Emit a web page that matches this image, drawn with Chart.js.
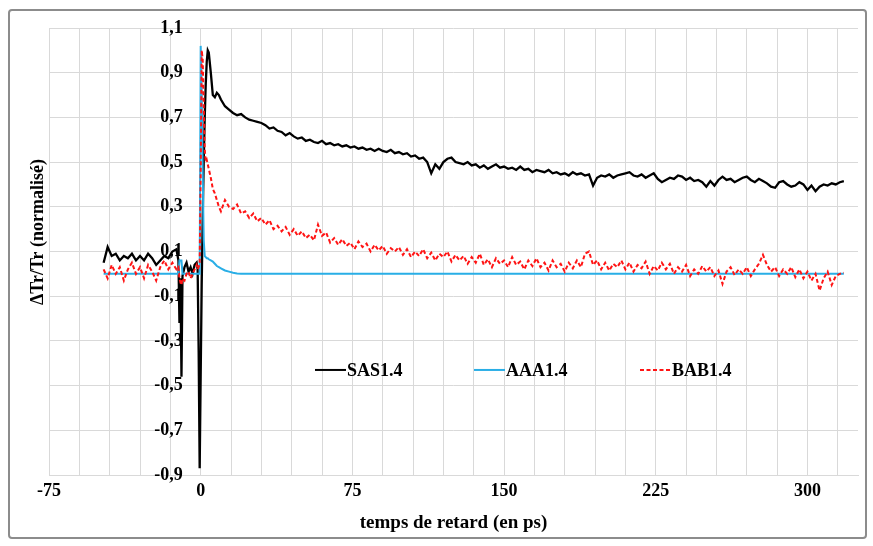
<!DOCTYPE html>
<html>
<head>
<meta charset="utf-8">
<script src="https://cdn.jsdelivr.net/npm/chart.js@4.4.1/dist/chart.umd.min.js"></script>
<style>
  html, body { margin: 0; padding: 0; background: #fff; }
  #wrap { position: relative; width: 873px; height: 546px; }
</style>
</head>
<body>
<div id="wrap"><canvas id="c"></canvas></div>
<script>
const times = [
  -48,-46,-44,-42,-40,-38,-36,-34,-32,-30,-28,-26,-24,-22,-20,-18,-16,-14,-12,
  -11,-10.5,-10,-9.5,-9,-8,-7,-6,-5,-4,-3,-2,-1.5,-1,-0.5,0,0.5,1,1.5,2,2.5,3,3.5,4,5,6,7,8,9,
  10,12,14,16,18,20,22,24,26,28,
  30,32,34,36,38,40,42,44,46,48,
  50,52,54,56,58,60,62,64,66,68,
  70,72,74,76,78,80,82,84,86,88,
  90,92,94,96,98,100,102,104,106,108,
  110,112,114,116,118,120,122,124,126,128,
  130,132,134,136,138,140,142,144,146,148,
  150,152,154,156,158,160,162,164,166,168,
  170,172,174,176,178,180,182,184,186,188,
  190,192,194,196,198,200,202,204,206,208,
  210,212,214,216,218,220,222,224,226,228,
  230,232,234,236,238,240,242,244,246,248,
  250,252,254,256,258,260,262,264,266,268,
  270,272,274,276,278,280,282,284,286,288,
  290,292,294,296,298,300,302,304,306,308,
  310,312,314,316,318
];
const sas = [
  0.05,0.12,0.08,0.09,0.06,0.08,0.07,0.09,0.06,0.08,0.06,0.09,0.07,0.04,0.06,0.08,0.07,0.10,0.11,
  0.06,-0.22,-0.02,-0.46,-0.01,0.03,0.05,0.01,0.03,0.0,0.04,0.05,0.02,-0.35,-0.87,-0.45,-0.05,0.25,0.5,0.7,0.85,0.95,1.0,0.99,0.9,0.8,0.79,0.81,0.8,
  0.78,0.75,0.735,0.72,0.71,0.715,0.70,0.69,0.685,0.68,
  0.675,0.665,0.65,0.655,0.64,0.635,0.62,0.63,0.615,0.605,
  0.61,0.595,0.6,0.59,0.585,0.595,0.58,0.585,0.575,0.58,
  0.57,0.575,0.565,0.57,0.56,0.565,0.555,0.56,0.55,0.56,
  0.55,0.545,0.555,0.54,0.545,0.535,0.54,0.525,0.53,0.515,
  0.52,0.5,0.45,0.49,0.47,0.5,0.515,0.52,0.5,0.495,
  0.49,0.5,0.485,0.49,0.475,0.485,0.47,0.48,0.49,0.475,
  0.48,0.47,0.475,0.465,0.48,0.465,0.47,0.455,0.465,0.46,
  0.455,0.465,0.45,0.455,0.445,0.45,0.44,0.455,0.445,0.45,
  0.44,0.445,0.395,0.43,0.44,0.435,0.445,0.43,0.44,0.445,
  0.45,0.455,0.44,0.435,0.445,0.43,0.44,0.45,0.425,0.41,
  0.42,0.43,0.425,0.44,0.435,0.42,0.43,0.415,0.42,0.41,
  0.39,0.415,0.395,0.42,0.435,0.42,0.425,0.41,0.42,0.43,
  0.435,0.42,0.41,0.425,0.415,0.405,0.39,0.385,0.41,0.415,
  0.4,0.39,0.395,0.41,0.4,0.375,0.395,0.37,0.39,0.4,
  0.395,0.405,0.4,0.41,0.415
];
const aaa = [
  0,0,0,0,0,0,0,0,0,0,0,0,0,0,0,0,0,0,0,
  0,0.06,0.06,0.06,0,0,0,0,0,0,0,0,0,0,0,1.02,0.8,0.45,0.15,0.08,0.075,0.07,0.07,0.065,0.06,0.055,0.045,0.035,0.03,
  0.025,0.015,0.01,0.005,0.002,0,0,0,0,0,
  0,0,0,0,0,0,0,0,0,0,
  0,0,0,0,0,0,0,0,0,0,
  0,0,0,0,0,0,0,0,0,0,
  0,0,0,0,0,0,0,0,0,0,
  0,0,0,0,0,0,0,0,0,0,
  0,0,0,0,0,0,0,0,0,0,
  0,0,0,0,0,0,0,0,0,0,
  0,0,0,0,0,0,0,0,0,0,
  0,0,0,0,0,0,0,0,0,0,
  0,0,0,0,0,0,0,0,0,0,
  0,0,0,0,0,0,0,0,0,0,
  0,0,0,0,0,0,0,0,0,0,
  0,0,0,0,0,0,0,0,0,0,
  0,0,0,0,0,0,0,0,0,0,
  0,0,0,0,0
];
const bab = [
  0.02,-0.02,0.04,0.0,0.03,-0.03,0.02,0.05,0.0,0.03,-0.02,0.04,0.01,-0.03,0.03,0.06,0.02,0.05,0.02,
  0.03,-0.02,-0.04,-0.05,-0.02,-0.03,0.0,0.01,-0.02,0.0,0.02,0.04,0.02,0.03,0.05,0.45,1.0,0.96,0.75,0.56,0.5,0.51,0.49,0.47,0.43,0.38,0.36,0.33,0.3,
  0.28,0.33,0.3,0.29,0.31,0.27,0.28,0.25,0.27,0.235,
  0.25,0.22,0.24,0.2,0.215,0.19,0.21,0.175,0.2,0.17,
  0.19,0.16,0.175,0.15,0.22,0.17,0.185,0.14,0.16,0.13,
  0.155,0.125,0.14,0.11,0.145,0.12,0.135,0.1,0.13,0.105,
  0.125,0.09,0.115,0.1,0.12,0.085,0.11,0.075,0.1,0.08,
  0.11,0.07,0.095,0.06,0.09,0.075,0.1,0.055,0.085,0.06,
  0.08,0.045,0.075,0.05,0.09,0.04,0.065,0.03,0.07,0.045,
  0.06,0.03,0.075,0.04,0.055,0.02,0.06,0.035,0.07,0.03,
  0.05,0.015,0.06,0.03,0.045,0.01,0.05,0.025,0.06,0.03,
  0.09,0.1,0.04,0.06,0.02,0.05,0.015,0.045,0.03,0.06,
  0.02,0.05,0.01,0.04,0.025,0.055,0.0,0.035,0.015,0.05,
  0.02,0.045,0.0,0.03,0.01,0.04,-0.01,0.02,0.0,0.035,
  0.01,0.03,-0.01,0.015,-0.045,0.01,0.03,-0.005,0.02,0.0,
  0.03,-0.01,0.02,0.045,0.085,0.04,0.01,0.03,-0.01,0.02,
  0.0,0.03,-0.015,0.02,-0.02,0.01,-0.03,0.0,-0.075,-0.02,
  0.01,-0.05,-0.01,0.0,0.005
];
const seriesNames = ['SAS1.4', 'AAA1.4', 'BAB1.4'];
const xGridTicks = [-75,-60,-45,-30,-15,0,15,30,45,60,75,90,105,120,135,150,165,180,195,210,225,240,255,270,285,300,315];
const xTickLabels = [-75, 0, 75, 150, 225, 300];
const yTicks = [-0.9,-0.7,-0.5,-0.3,-0.1,0.1,0.3,0.5,0.7,0.9,1.1];
const xTitle = 'temps de retard (en ps)';
const yTitle = '\u0394Tr/Tr (normalisé)';

const FONT = '"Liberation Serif", "Times New Roman", serif';
const GRID = '#d9d9d9';
const toPts = arr => times.map((t, i) => ({x: t, y: arr[i]}));

const frame = {
  id: 'frame',
  beforeDraw(chart) {
    const ctx = chart.ctx;
    ctx.save();
    ctx.fillStyle = '#fff';
    ctx.fillRect(0, 0, chart.width, chart.height);
    ctx.strokeStyle = '#8c8c8c';
    ctx.lineWidth = 2;
    ctx.beginPath();
    ctx.roundRect(9, 10, 857, 528, 3);
    ctx.stroke();
    ctx.restore();
  },
  afterDraw(chart) {
    const ctx = chart.ctx;
    ctx.save();
    ctx.fillStyle = '#000';
    ctx.font = 'bold 18px ' + FONT;
    ctx.textAlign = 'center';
    ctx.textBaseline = 'middle';
    ctx.translate(38, 232);
    ctx.rotate(-Math.PI / 2);
    ctx.fillText(yTitle, 0, 0);
    ctx.restore();
    ctx.save();
    const ly = chart.scales.y.getPixelForValue(-0.43);
    const starts = [315, 474, 640];
    chart.data.datasets.forEach((ds, i) => {
      const x0 = starts[i];
      ctx.strokeStyle = ds.borderColor;
      ctx.lineWidth = 2;
      ctx.setLineDash(ds.borderDash || []);
      ctx.beginPath();
      ctx.moveTo(x0, ly);
      ctx.lineTo(x0 + 31, ly);
      ctx.stroke();
      ctx.setLineDash([]);
      ctx.fillStyle = '#000';
      ctx.font = 'bold 18px ' + FONT;
      ctx.textAlign = 'left';
      ctx.textBaseline = 'middle';
      ctx.fillText(ds.label, x0 + 32, ly + 1);
    });
    ctx.restore();
  }
};

new Chart(document.getElementById('c'), {
  type: 'scatter',
  data: {
    datasets: [
      { label: seriesNames[0], data: toPts(sas), borderColor: '#000000', borderWidth: 2.3, showLine: true, pointRadius: 0, order: 2 },
      { label: seriesNames[1], data: toPts(aaa), borderColor: '#29aee6', borderWidth: 2, showLine: true, pointRadius: 0, order: 1 },
      { label: seriesNames[2], data: toPts(bab), borderColor: '#ff1414', borderWidth: 2, borderDash: [4, 2.5], showLine: true, pointRadius: 0, order: 0 }
    ]
  },
  options: {
    responsive: true,
    maintainAspectRatio: false,
    animation: false,
    events: [],
    layout: { padding: { left: 49, right: 15, top: 28, bottom: 7.6 } },
    plugins: { legend: { display: false }, tooltip: { enabled: false } },
    scales: {
      x: {
        type: 'linear',
        min: -75, max: 325,
        afterBuildTicks: s => { s.ticks = xGridTicks.map(v => ({ value: v })); },
        grid: { color: GRID, lineWidth: 1, drawTicks: false },
        border: { color: GRID },
        ticks: {
          autoSkip: false, maxRotation: 0, padding: 6, color: '#000',
          font: { family: FONT, size: 18, weight: 'bold' },
          callback: v => xTickLabels.includes(v) ? String(v) : ''
        },
        title: { display: true, text: xTitle, color: '#000', padding: { top: 3, bottom: 4 },
                 font: { family: FONT, size: 19, weight: 'bold' } }
      },
      y: {
        type: 'linear',
        position: { x: 0 },
        min: -0.9, max: 1.1,
        afterBuildTicks: s => { s.ticks = yTicks.map(v => ({ value: v })); },
        grid: { color: GRID, lineWidth: 1, drawTicks: false },
        border: { color: GRID },
        ticks: {
          color: '#000',
          font: { family: FONT, size: 18, weight: 'bold' },
          callback: v => v.toFixed(1).replace('.', ',') + '    '
        }
      }
    }
  },
  plugins: [frame]
});
</script>
</body>
</html>
